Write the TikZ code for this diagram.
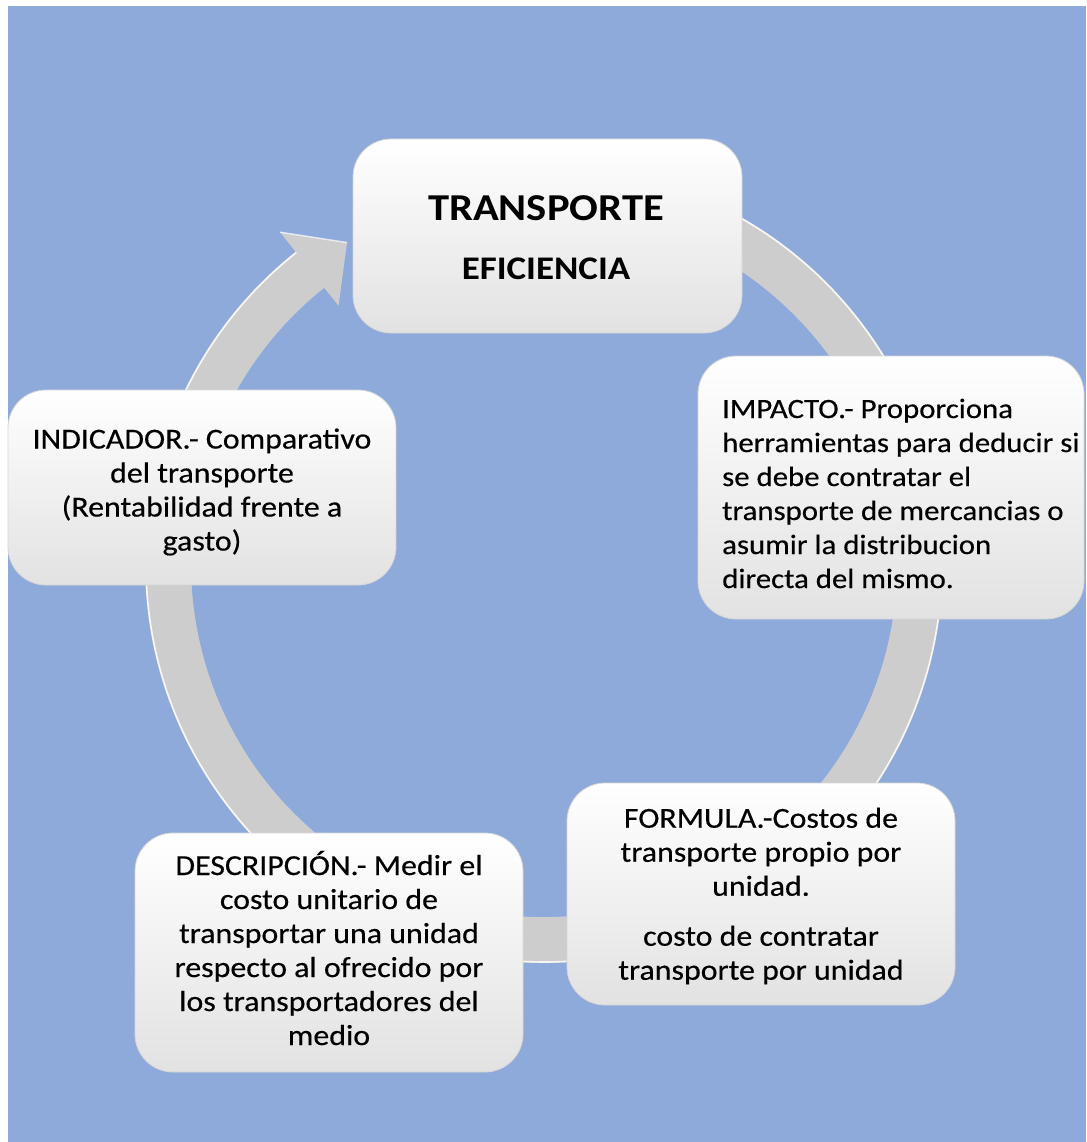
\documentclass[tikz,border=0pt]{standalone}
\usepackage{fontspec}
\setmainfont{Carlito}[FakeStretch=1.1, FakeBold=0.4]
\newfontfamily\headfont{Carlito}[FakeStretch=1.12]
\usetikzlibrary{calc}
\definecolor{bgblue}{HTML}{8EAADB}
\definecolor{ringgray}{HTML}{CDCDCD}
\definecolor{boxgray}{HTML}{E2E2E2}
\definecolor{boxedge}{HTML}{D6D6D6}

\begin{document}
\begin{tikzpicture}[x=1pt,y=1pt,
  box/.style={rounded corners=38pt, inner sep=0pt, top color=white, middle color=white,
              bottom color=boxgray, draw=boxedge, line width=0.8pt},
  body/.style={font=\fontsize{29}{34}\selectfont, inner sep=0pt, align=center},
  headline/.style={font=\headfont\bfseries\fontsize{38}{46}\selectfont, inner sep=0pt, anchor=base},
  subline/.style={font=\headfont\bfseries\fontsize{33}{40}\selectfont, inner sep=0pt, anchor=base},
]
\useasboundingbox (0,0) rectangle (1086,-1142);
\fill[white] (0,0) rectangle (1086,-1142);
\fill[bgblue] (8,-6) rectangle (1086,-1142);

% circular arrow running behind the five boxes
\coordinate (hub) at (544,-564);
\begin{scope}[shift={(hub)}]
  \fill[ringgray] (128.5:399) arc[start angle=128.5, end angle=460, radius=399]
    -- (460:353) arc[start angle=460, end angle=128.5, radius=353]
    -- (128.5:330) -- (121.5:377) -- (128.5:424) -- cycle;
  \draw[white, line width=1.6pt, opacity=.85]
    (128.5:398) arc[start angle=128.5, end angle=460, radius=398];
  \draw[white, line width=1.4pt, opacity=.7] (128.5:424) -- (121.5:377);
\end{scope}

% boxes
\node[box, minimum width=389, minimum height=194] (transporte) at (547.5,-236) {};
\node[box, minimum width=386, minimum height=263] (impacto) at (891,-487.5) {};
\node[box, minimum width=388, minimum height=222] (formula) at (761,-894) {};
\node[box, minimum width=388, minimum height=239] (descripcion) at (329,-952.5) {};
\node[box, minimum width=388, minimum height=195] (indicador) at (202,-487.5) {};

% texts
\node[headline] (ttitle) at (546,-220) {TRANSPORTE};
\node[subline] (tsub) at (546,-279) {EFICIENCIA};

\node[body, font=\fontsize{28}{34}\selectfont, align=left, anchor=west] (timpacto) at (722,-493.5)
  {IMPACTO.- Proporciona\\herramientas para deducir si\\se debe contratar el\\transporte de mercancias o\\asumir la distribucion\\directa del mismo.};
\node[body] (tformula) at (761,-896)
  {FORMULA.-Costos de\\transporte propio por\\unidad.\\[16pt]costo de contratar\\transporte por unidad};
\node[body] (tdescripcion) at (329,-948)
  {DESCRIPCIÓN.- Medir el\\costo unitario de\\transportar una unidad\\respecto al ofrecido por\\los transportadores del\\medio};
\node[body] (tindicador) at (202,-492)
  {INDICADOR.- Comparativo\\del transporte\\(Rentabilidad frente a\\gasto)};
\end{tikzpicture}
\end{document}
